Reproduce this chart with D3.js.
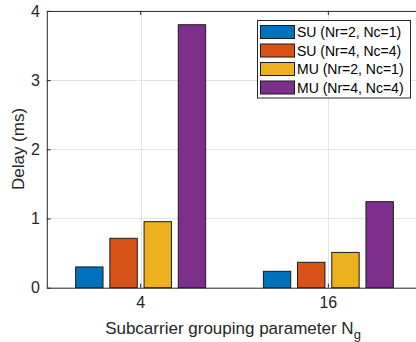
<!DOCTYPE html>
<html>
<head>
<meta charset="utf-8">
<script src="https://cdn.jsdelivr.net/npm/d3@7"></script>
<style>
  body { margin: 0; background: #fff; }
  svg { display: block; font-family: "Liberation Sans", Arial, sans-serif; }
</style>
</head>
<body>
<div id="chart"></div>
<script>
// Data
const groups = ["4", "16"];
const seriesNames = ["SU (Nr=2, Nc=1)", "SU (Nr=4, Nc=4)", "MU (Nr=2, Nc=1)", "MU (Nr=4, Nc=4)"];
const seriesColors = ["#0072BD", "#D95319", "#EDB120", "#7E2F8E"];
const su21 = [0.30, 0.237];
const su44 = [0.714, 0.367];
const mu21 = [0.954, 0.51];
const mu44 = [3.80, 1.243];
const yTicks = [0, 1, 2, 3, 4];

const seriesValues = [su21, su44, mu21, mu44];
const data = groups.map((g, i) => ({
  group: g,
  values: seriesValues.map((s, j) => ({ key: j, value: s[i] }))
}));

const W = 416, H = 342;
const plotL = 46.8, plotR = 422.2, plotT = 10.9, plotB = 287.7;
const ink = "#262626";

const svg = d3.select("#chart").append("svg")
  .attr("width", W).attr("height", H);

const x0 = d3.scaleBand()
  .domain(groups)
  .range([plotL, plotR])
  .paddingInner(0.271)
  .paddingOuter(0.1355);

const x1 = d3.scaleBand()
  .domain(d3.range(seriesNames.length))
  .range([0, x0.bandwidth()])
  .paddingInner(0.2)
  .paddingOuter(0.1);

const y = d3.scaleLinear().domain([0, 4]).range([plotB, plotT]);

// Grid
const grid = svg.append("g").attr("stroke", "#e3e3e3").attr("stroke-width", 1);
grid.selectAll(".gy").data(yTicks.slice(1, -1)).join("line")
  .attr("x1", plotL).attr("x2", plotR)
  .attr("y1", d => Math.round(y(d)) + 0.5).attr("y2", d => Math.round(y(d)) + 0.5);
grid.selectAll(".gx").data(groups).join("line")
  .attr("x1", d => Math.round(x0(d) + x0.bandwidth() / 2) + 0.5)
  .attr("x2", d => Math.round(x0(d) + x0.bandwidth() / 2) + 0.5)
  .attr("y1", plotT).attr("y2", plotB);

// Bars
svg.append("g").selectAll("g")
  .data(data)
  .join("g")
  .attr("transform", d => `translate(${x0(d.group)},0)`)
  .selectAll("rect")
  .data(d => d.values)
  .join("rect")
  .attr("x", d => x1(d.key))
  .attr("y", d => y(d.value))
  .attr("width", x1.bandwidth())
  .attr("height", d => y(0) - y(d.value))
  .attr("fill", d => seriesColors[d.key])
  .attr("stroke", "#1a1a1a")
  .attr("stroke-width", 1);

// Axes (inward ticks, box on)
const tickLen = 4;
const yAxisL = d3.axisLeft(y).tickValues(yTicks).tickFormat(d3.format("d"))
  .tickSizeInner(-tickLen).tickSizeOuter(0).tickPadding(7);
const yAxisR = d3.axisRight(y).tickValues(yTicks).tickSizeInner(-tickLen).tickSizeOuter(0).tickFormat("");
const xAxisB = d3.axisBottom(x0).tickSizeInner(-tickLen).tickSizeOuter(0).tickPadding(9);
const xAxisT = d3.axisTop(x0).tickSizeInner(-tickLen).tickSizeOuter(0).tickFormat("");

function style(g) {
  g.select(".domain").attr("stroke", ink);
  g.selectAll(".tick line").attr("stroke", ink);
  g.selectAll(".tick text").attr("fill", ink).attr("font-size", 16)
    .attr("font-family", "Liberation Sans, Arial, sans-serif");
}

svg.append("g").attr("transform", `translate(${plotL},0)`).call(yAxisL).call(style);
svg.append("g").attr("transform", `translate(${plotR},0)`).call(yAxisR).call(style);
svg.append("g").attr("transform", `translate(0,${plotB})`).call(xAxisB).call(style);
svg.append("g").attr("transform", `translate(0,${plotT})`).call(xAxisT).call(style);

// Axis labels
svg.append("text")
  .attr("transform", `translate(24,149) rotate(-90)`)
  .attr("text-anchor", "middle")
  .attr("fill", ink).attr("font-size", 17)
  .text("Delay (ms)");

const xl = svg.append("text")
  .attr("x", 233).attr("y", 334)
  .attr("text-anchor", "middle")
  .attr("fill", ink).attr("font-size", 17);
xl.append("tspan").text("Subcarrier grouping parameter N");
xl.append("tspan").attr("font-size", 13).attr("dy", 5).text("g");

// Legend
const lg = svg.append("g").attr("transform", "translate(257.5,20.5)");
lg.append("rect")
  .attr("width", 153).attr("height", 77.5)
  .attr("fill", "#fff").attr("stroke", ink).attr("stroke-width", 1);
const item = lg.selectAll(".item").data(seriesNames).join("g")
  .attr("transform", (d, i) => `translate(0,${11.5 + i * 18.5})`);
item.append("rect")
  .attr("x", 3).attr("y", -6.5).attr("width", 34).attr("height", 13)
  .attr("fill", (d, i) => seriesColors[i])
  .attr("stroke", "#1a1a1a").attr("stroke-width", 1);
item.append("text")
  .attr("x", 39.5).attr("y", 5)
  .attr("fill", "#000").attr("font-size", 14)
  .text(d => d);
</script>
</body>
</html>
